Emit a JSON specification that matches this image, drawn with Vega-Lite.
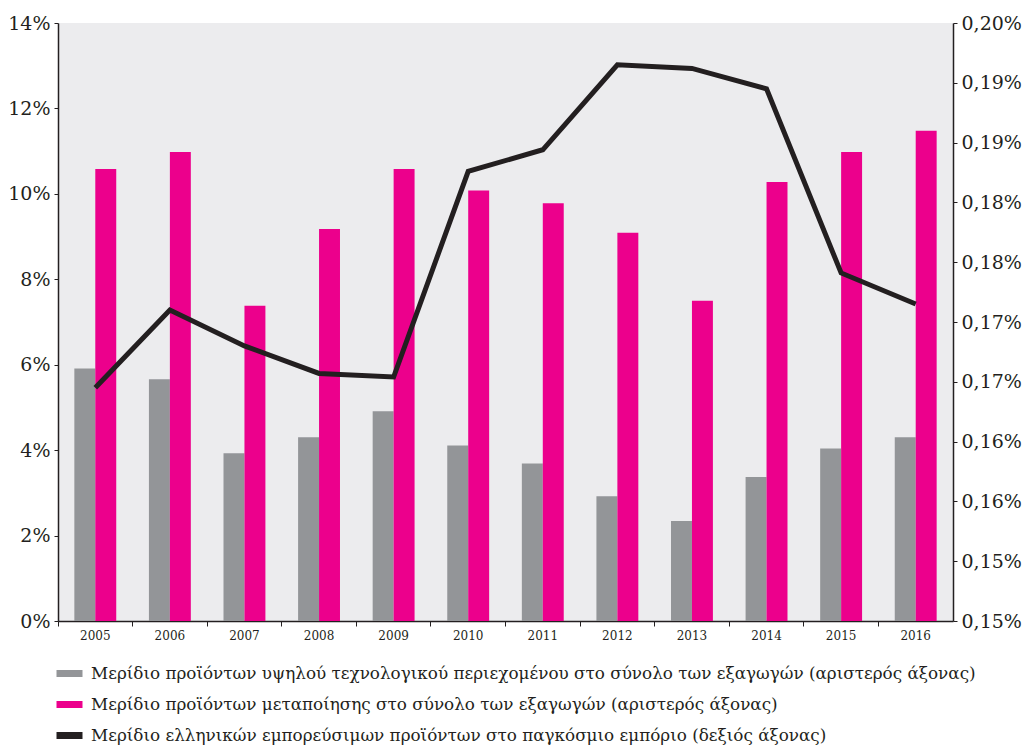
{
  "$schema": "https://vega.github.io/schema/vega-lite/v6.json",
  "width": 895,
  "height": 598,
  "autosize": "none",
  "padding": {"left": 58, "top": 23, "right": 75, "bottom": 125},
  "background": "#ffffff",
  "config": {
    "view": {"fill": "#ececee", "stroke": null},
    "font": "DejaVu Serif",
    "axis": {"labelFont": "DejaVu Serif", "labelColor": "#231f20", "domainColor": "#231f20", "tickColor": "#231f20", "grid": false, "title": null, "domainWidth": 1.5}
  },
  "datasets": {
    "bars": [
      {"year": "2005", "series": "Μερίδιο προϊόντων υψηλού τεχνολογικού περιεχομένου στο σύνολο των εξαγωγών (αριστερός άξονας)", "value": 5.91},
      {"year": "2006", "series": "Μερίδιο προϊόντων υψηλού τεχνολογικού περιεχομένου στο σύνολο των εξαγωγών (αριστερός άξονας)", "value": 5.66},
      {"year": "2007", "series": "Μερίδιο προϊόντων υψηλού τεχνολογικού περιεχομένου στο σύνολο των εξαγωγών (αριστερός άξονας)", "value": 3.93},
      {"year": "2008", "series": "Μερίδιο προϊόντων υψηλού τεχνολογικού περιεχομένου στο σύνολο των εξαγωγών (αριστερός άξονας)", "value": 4.30},
      {"year": "2009", "series": "Μερίδιο προϊόντων υψηλού τεχνολογικού περιεχομένου στο σύνολο των εξαγωγών (αριστερός άξονας)", "value": 4.91},
      {"year": "2010", "series": "Μερίδιο προϊόντων υψηλού τεχνολογικού περιεχομένου στο σύνολο των εξαγωγών (αριστερός άξονας)", "value": 4.11},
      {"year": "2011", "series": "Μερίδιο προϊόντων υψηλού τεχνολογικού περιεχομένου στο σύνολο των εξαγωγών (αριστερός άξονας)", "value": 3.69},
      {"year": "2012", "series": "Μερίδιο προϊόντων υψηλού τεχνολογικού περιεχομένου στο σύνολο των εξαγωγών (αριστερός άξονας)", "value": 2.92},
      {"year": "2013", "series": "Μερίδιο προϊόντων υψηλού τεχνολογικού περιεχομένου στο σύνολο των εξαγωγών (αριστερός άξονας)", "value": 2.34},
      {"year": "2014", "series": "Μερίδιο προϊόντων υψηλού τεχνολογικού περιεχομένου στο σύνολο των εξαγωγών (αριστερός άξονας)", "value": 3.37},
      {"year": "2015", "series": "Μερίδιο προϊόντων υψηλού τεχνολογικού περιεχομένου στο σύνολο των εξαγωγών (αριστερός άξονας)", "value": 4.04},
      {"year": "2016", "series": "Μερίδιο προϊόντων υψηλού τεχνολογικού περιεχομένου στο σύνολο των εξαγωγών (αριστερός άξονας)", "value": 4.30},
      {"year": "2005", "series": "Μερίδιο προϊόντων μεταποίησης στο σύνολο των εξαγωγών (αριστερός άξονας)", "value": 10.58},
      {"year": "2006", "series": "Μερίδιο προϊόντων μεταποίησης στο σύνολο των εξαγωγών (αριστερός άξονας)", "value": 10.98},
      {"year": "2007", "series": "Μερίδιο προϊόντων μεταποίησης στο σύνολο των εξαγωγών (αριστερός άξονας)", "value": 7.38},
      {"year": "2008", "series": "Μερίδιο προϊόντων μεταποίησης στο σύνολο των εξαγωγών (αριστερός άξονας)", "value": 9.18},
      {"year": "2009", "series": "Μερίδιο προϊόντων μεταποίησης στο σύνολο των εξαγωγών (αριστερός άξονας)", "value": 10.58},
      {"year": "2010", "series": "Μερίδιο προϊόντων μεταποίησης στο σύνολο των εξαγωγών (αριστερός άξονας)", "value": 10.08},
      {"year": "2011", "series": "Μερίδιο προϊόντων μεταποίησης στο σύνολο των εξαγωγών (αριστερός άξονας)", "value": 9.78},
      {"year": "2012", "series": "Μερίδιο προϊόντων μεταποίησης στο σύνολο των εξαγωγών (αριστερός άξονας)", "value": 9.09},
      {"year": "2013", "series": "Μερίδιο προϊόντων μεταποίησης στο σύνολο των εξαγωγών (αριστερός άξονας)", "value": 7.50},
      {"year": "2014", "series": "Μερίδιο προϊόντων μεταποίησης στο σύνολο των εξαγωγών (αριστερός άξονας)", "value": 10.28},
      {"year": "2015", "series": "Μερίδιο προϊόντων μεταποίησης στο σύνολο των εξαγωγών (αριστερός άξονας)", "value": 10.98},
      {"year": "2016", "series": "Μερίδιο προϊόντων μεταποίησης στο σύνολο των εξαγωγών (αριστερός άξονας)", "value": 11.48}
    ],
    "line": [
      {"year": "2005", "series": "Μερίδιο ελληνικών εμπορεύσιμων προϊόντων στο παγκόσμιο εμπόριο (δεξιός άξονας)", "value": 0.1645},
      {"year": "2006", "series": "Μερίδιο ελληνικών εμπορεύσιμων προϊόντων στο παγκόσμιο εμπόριο (δεξιός άξονας)", "value": 0.1710},
      {"year": "2007", "series": "Μερίδιο ελληνικών εμπορεύσιμων προϊόντων στο παγκόσμιο εμπόριο (δεξιός άξονας)", "value": 0.1680},
      {"year": "2008", "series": "Μερίδιο ελληνικών εμπορεύσιμων προϊόντων στο παγκόσμιο εμπόριο (δεξιός άξονας)", "value": 0.1657},
      {"year": "2009", "series": "Μερίδιο ελληνικών εμπορεύσιμων προϊόντων στο παγκόσμιο εμπόριο (δεξιός άξονας)", "value": 0.1654},
      {"year": "2010", "series": "Μερίδιο ελληνικών εμπορεύσιμων προϊόντων στο παγκόσμιο εμπόριο (δεξιός άξονας)", "value": 0.1826},
      {"year": "2011", "series": "Μερίδιο ελληνικών εμπορεύσιμων προϊόντων στο παγκόσμιο εμπόριο (δεξιός άξονας)", "value": 0.1844},
      {"year": "2012", "series": "Μερίδιο ελληνικών εμπορεύσιμων προϊόντων στο παγκόσμιο εμπόριο (δεξιός άξονας)", "value": 0.1915},
      {"year": "2013", "series": "Μερίδιο ελληνικών εμπορεύσιμων προϊόντων στο παγκόσμιο εμπόριο (δεξιός άξονας)", "value": 0.1912},
      {"year": "2014", "series": "Μερίδιο ελληνικών εμπορεύσιμων προϊόντων στο παγκόσμιο εμπόριο (δεξιός άξονας)", "value": 0.1895},
      {"year": "2015", "series": "Μερίδιο ελληνικών εμπορεύσιμων προϊόντων στο παγκόσμιο εμπόριο (δεξιός άξονας)", "value": 0.1741},
      {"year": "2016", "series": "Μερίδιο ελληνικών εμπορεύσιμων προϊόντων στο παγκόσμιο εμπόριο (δεξιός άξονας)", "value": 0.1715}
    ]
  },
  "layer": [
    {
      "data": {"name": "bars"},
      "mark": {"type": "bar"},
      "encoding": {
        "x": {
          "field": "year", "type": "ordinal",
          "scale": {"paddingInner": 0, "paddingOuter": 0},
          "axis": {"bandPosition": 0, "labelAngle": 0, "labelFontSize": 12, "tickSize": 5, "labelPadding": 4}
        },
        "xOffset": {
          "field": "series", "type": "nominal",
          "sort": ["Μερίδιο προϊόντων υψηλού τεχνολογικού περιεχομένου στο σύνολο των εξαγωγών (αριστερός άξονας)", "Μερίδιο προϊόντων μεταποίησης στο σύνολο των εξαγωγών (αριστερός άξονας)"],
          "scale": {"paddingInner": 0, "paddingOuter": 0.78}
        },
        "y": {
          "field": "value", "type": "quantitative",
          "scale": {"domain": [0, 14], "nice": false, "zero": true},
          "axis": {"values": [0, 2, 4, 6, 8, 10, 12, 14], "labelExpr": "format(datum.value, 'd') + '%'", "labelFontSize": 19, "tickSize": 4, "labelPadding": 4}
        },
        "color": {
          "field": "series", "type": "nominal",
          "scale": {
            "domain": ["Μερίδιο προϊόντων υψηλού τεχνολογικού περιεχομένου στο σύνολο των εξαγωγών (αριστερός άξονας)", "Μερίδιο προϊόντων μεταποίησης στο σύνολο των εξαγωγών (αριστερός άξονας)", "Μερίδιο ελληνικών εμπορεύσιμων προϊόντων στο παγκόσμιο εμπόριο (δεξιός άξονας)"],
            "range": ["#939598", "#ec008c", "#231f20"]
          },
          "legend": {
            "orient": "none",
            "legendX": -5,
            "legendY": 634,
            "direction": "vertical",
            "title": null,
            "padding": 0,
            "symbolType": "stroke",
            "symbolSize": 676,
            "symbolStrokeWidth": 7,
            "labelFont": "DejaVu Serif",
            "labelFontSize": 16.8,
            "labelColor": "#231f20",
            "labelOffset": 5,
            "labelLimit": 1000,
            "rowPadding": 0
          }
        }
      }
    },
    {
      "data": {"name": "line"},
      "mark": {"type": "line", "strokeWidth": 5},
      "encoding": {
        "x": {"field": "year", "type": "ordinal"},
        "y": {
          "field": "value", "type": "quantitative",
          "scale": {"domain": [0.145, 0.195], "nice": false, "zero": false},
          "axis": {
            "orient": "right",
            "values": [0.145, 0.15, 0.155, 0.16, 0.165, 0.17, 0.175, 0.18, 0.185, 0.19, 0.195],
            "labelExpr": "replace(format(datum.value + 0.0000001, '.2f'), '.', ',') + '%'",
            "labelFontSize": 19, "tickSize": 4, "labelPadding": 4
          }
        },
        "color": {"field": "series", "type": "nominal"}
      }
    }
  ],
  "resolve": {"scale": {"y": "independent"}}
}
